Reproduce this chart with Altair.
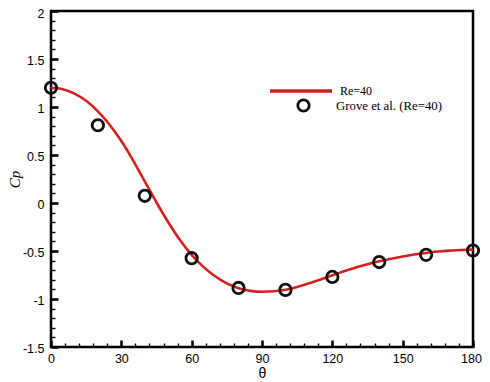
import altair as alt
import pandas as pd

# Simulation curve (Re=40)
theta_line = [0, 5, 10, 15, 20, 25, 30, 35, 40, 45, 50, 55, 60, 65, 70, 75, 80, 85, 90,
              95, 100, 105, 110, 115, 120, 125, 130, 135, 140, 145, 150, 155, 160, 165,
              170, 175, 180]
cp_line = [1.2, 1.185, 1.14, 1.065, 0.955, 0.815, 0.645, 0.445, 0.225, 0.005, -0.2, -0.385,
           -0.54, -0.665, -0.763, -0.838, -0.888, -0.915, -0.925, -0.92, -0.903, -0.874,
           -0.837, -0.796, -0.753, -0.711, -0.672, -0.637, -0.607, -0.58, -0.557, -0.537,
           -0.52, -0.506, -0.496, -0.49, -0.486]

# Experimental data (Grove et al.)
theta_exp = [0, 20, 40, 60, 80, 100, 120, 140, 160, 180]
cp_exp = [1.2, 0.81, 0.075, -0.575, -0.885, -0.905, -0.77, -0.615, -0.54, -0.495]

x_major = [0, 30, 60, 90, 120, 150, 180]
x_minor = [0, 6, 12, 18, 24, 30, 36, 42, 48, 54, 60, 66, 72, 78, 84, 90, 96, 102, 108,
           114, 120, 126, 132, 138, 144, 150, 156, 162, 168, 174, 180]
y_major = [-1.5, -1, -0.5, 0, 0.5, 1, 1.5, 2]
y_minor = [round(-1.5 + 0.1 * i, 1) for i in range(36)]

line_name = "Re=40"
exp_name = "Grove et al. (Re=40)"

df_line = pd.DataFrame({"theta": theta_line, "cp": cp_line, "series": line_name})
df_exp = pd.DataFrame({"theta": theta_exp, "cp": cp_exp, "series": exp_name})

xs = alt.Scale(domain=[0, 180], nice=False, zero=False)
ys = alt.Scale(domain=[-1.5, 2], nice=False, zero=False)

RED = "#d6201f"

label_axis_common = dict(ticks=False, tickSize=0, domain=False, grid=False,
                         labelFlush=False, labelOverlap=False,
                         labelExpr="'' + datum.value",
                         labelFont="Liberation Sans", labelFontSize=12.5, labelColor="black")

line = alt.Chart(df_line).mark_line(strokeWidth=2.6, interpolate="monotone").encode(
    x=alt.X("theta:Q", scale=xs,
            axis=alt.Axis(values=x_major, orient="bottom", labelPadding=5, title="θ",
                          labelOffset={"condition": {"test": "datum.value === 180", "value": -2},
                                       "value": 0},
                          titleFont="Liberation Sans", titleFontSize=14,
                          titleFontWeight="normal", titlePadding=2, titleColor="black",
                          **label_axis_common)),
    y=alt.Y("cp:Q", scale=ys,
            axis=alt.Axis(values=y_major, orient="left", labelPadding=7,
                          labelOffset={"condition": {"test": "datum.value === 2", "value": 2.5},
                                       "value": 1},
                          title="Cp",
                          titleFont="Liberation Serif", titleFontSize=15,
                          titleFontStyle="italic", titleFontWeight="normal",
                          titlePadding=0, titleColor="black",
                          **label_axis_common)),
    color=alt.Color("series:N", scale=alt.Scale(domain=[line_name], range=[RED]),
                    legend=alt.Legend(title=None, orient="none", legendX=217, legendY=47,
                                      symbolType="stroke", symbolSize=3844,
                                      symbolStrokeWidth=3.5, labelOffset=6, padding=0,
                                      labelFont="Liberation Serif", labelFontSize=12,
                                      labelColor="black")),
)

tick_major = dict(labels=False, domain=False, grid=False, ticks=True, tickColor="black")

points = alt.Chart(df_exp).mark_point(filled=False, size=130, strokeWidth=2.8,
                                      color="#111111", opacity=1).encode(
    x=alt.X("theta:Q", scale=xs,
            axis=alt.Axis(values=x_major, orient="bottom", tickSize=7, tickWidth=2.5,
                          offset=-7, title=None, **tick_major)),
    y=alt.Y("cp:Q", scale=ys,
            axis=alt.Axis(values=y_major, orient="left", tickSize=7, tickWidth=2.5,
                          offset=-7, title=None, **tick_major)),
    shape=alt.Shape("series:N", scale=alt.Scale(domain=[exp_name], range=["circle"]),
                    legend=alt.Legend(title=None, orient="none", legendX=245, legendY=87,
                                      symbolSize=130, symbolStrokeWidth=2.8,
                                      symbolStrokeColor="#111111",
                                      symbolFillColor="transparent",
                                      labelOffset=25, padding=0,
                                      labelFont="Liberation Serif", labelFontSize=12.8,
                                      labelColor="black")),
)

minor = alt.Chart(df_line).mark_line(strokeOpacity=0).encode(
    x=alt.X("theta:Q", scale=xs,
            axis=alt.Axis(values=x_minor, orient="bottom", tickSize=4, tickWidth=1.4,
                          offset=-4, title=None, **tick_major)),
    y=alt.Y("cp:Q", scale=ys,
            axis=alt.Axis(values=y_minor, orient="left", tickSize=4, tickWidth=1.4,
                          offset=-4, title=None, **tick_major)),
)

chart = alt.layer(minor, line, points).resolve_axis(x="independent", y="independent").properties(
    width=422, height=336,
    autosize=alt.AutoSizeParams(type="none"),
    padding={"left": 43, "top": 3, "right": 9, "bottom": 35},
).configure(background="white").configure_view(stroke="black", strokeWidth=2.5)

chart.save("out.html", embed_options={"renderer": "svg", "actions": False})
